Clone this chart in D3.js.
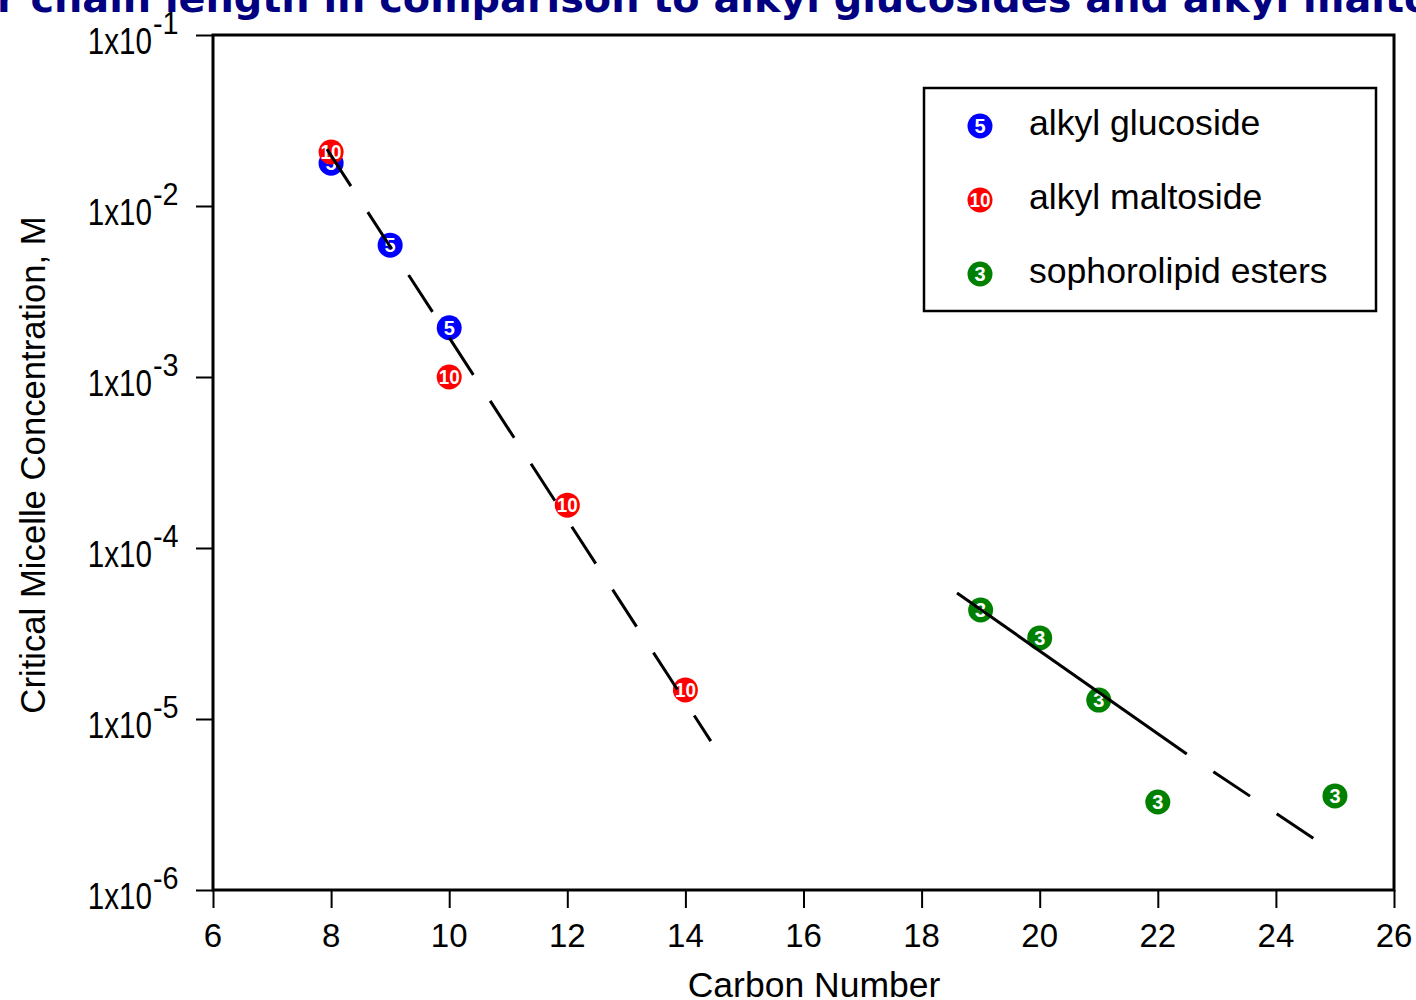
<!DOCTYPE html>
<html>
<head>
<meta charset="utf-8">
<script src="https://cdn.jsdelivr.net/npm/d3@7"></script>
<style>
  html, body { margin: 0; padding: 0; background: #fff; }
  svg { display: block; }
</style>
</head>
<body>
<div id="chart"></div>
<script>
// Data (CMC in mol/L versus carbon number)
var glucosideCarbon = [8, 9, 10];
var glucosideCmc = [1.78e-2, 5.9e-3, 1.94e-3];

var maltosideCarbon = [8, 10, 12, 14];
var maltosideCmc = [2.07e-2, 1.0e-3, 1.78e-4, 1.48e-5];

var esterCarbon = [19, 20, 21, 22, 25];
var esterCmc = [4.34e-5, 2.98e-5, 1.29e-5, 3.27e-6, 3.55e-6];

// trend lines (end points)
var sugarFitCarbon = [7.93, 14.43];
var sugarFitCmc = [2.15e-2, 7.43e-6];
var esterFitCarbon = [18.6, 22.49];
var esterFitCmc = [5.46e-5, 6.24e-6];
var esterExtraCarbon = [22.49, 24.65];
var esterExtraCmc = [6.24e-6, 1.99e-6];

var xTicks = [6, 8, 10, 12, 14, 16, 18, 20, 22, 24, 26];
var yTicks = [1e-6, 1e-5, 1e-4, 1e-3, 1e-2, 1e-1];
var yTickExponents = ['-6', '-5', '-4', '-3', '-2', '-1'];

var seriesNames = ['alkyl glucoside', 'alkyl maltoside', 'sophorolipid esters'];
var seriesColors = ['#0000ff', '#ff0000', '#008000'];
var seriesSymbols = ['5', '10', '3'];

var titleText = 'Effect of ester chain length in comparison to alkyl glucosides and alkyl maltosides';

var width = 1416, height = 1000;
var margin = { top: 35, right: 22, bottom: 110, left: 213 };
var font = "'Liberation Sans', Arial, Helvetica, sans-serif";

var svg = d3.select('#chart').append('svg')
  .attr('width', width).attr('height', height);

var x = d3.scaleLinear().domain([6, 26]).range([margin.left, width - margin.right]);
var y = d3.scaleLog().domain([1e-6, 1e-1]).range([height - margin.bottom, margin.top]);

// Title (cut off at the top of the picture)
var title = svg.append('text')
  .attr('y', 12)
  .attr('font-family', "'Comic Sans MS', 'DejaVu Sans', sans-serif")
  .attr('font-weight', 'bold')
  .attr('font-size', 38)
  .attr('fill', '#000080')
  .text(titleText);
(function fitTitle() {
  var node = title.node();
  var i0 = titleText.indexOf('r chain');
  var i1 = titleText.indexOf('maltosides') + 1;
  var w = node.getSubStringLength(i0, i1 - i0);
  title.attr('font-size', 38 * 1348 / w);
  var pre = node.getSubStringLength(0, i0);
  title.attr('x', -3 - pre);
})();

// Minor ticks
var xMinor = d3.range(6.5, 26, 0.5).filter(function(v) { return v % 2 !== 0; });
var yMinor = [];
yTicks.slice(0, -1).forEach(function(d) {
  for (var k = 2; k <= 9; k++) yMinor.push(d * k);
});

var xAxisG = svg.append('g').attr('transform', 'translate(0,' + (height - margin.bottom) + ')');
xAxisG.call(d3.axisBottom(x).tickValues(xMinor).tickSize(10).tickFormat(''));
xAxisG.call(d3.axisBottom(x).tickValues(xTicks).tickSize(18).tickFormat(''));
xAxisG.selectAll('.domain').remove();
xAxisG.selectAll('line').attr('stroke', '#000').attr('stroke-width', 2);

var yAxisG = svg.append('g').attr('transform', 'translate(' + margin.left + ',0)');
yAxisG.call(d3.axisLeft(y).tickValues(yMinor).tickSize(8).tickFormat(''));
yAxisG.call(d3.axisLeft(y).tickValues(yTicks).tickSize(17).tickFormat(''));
yAxisG.selectAll('.domain').remove();
yAxisG.selectAll('line').attr('stroke', '#000').attr('stroke-width', 2);

// x tick labels
svg.append('g').selectAll('text').data(xTicks).enter().append('text')
  .attr('x', function(d) { return x(d); })
  .attr('y', height - margin.bottom + 57)
  .attr('text-anchor', 'middle')
  .attr('font-family', font)
  .attr('font-size', 33)
  .attr('fill', '#000')
  .text(function(d) { return d; });

// y tick labels: 1x10 with superscript exponent
var yLab = svg.append('g').selectAll('g').data(yTicks).enter().append('g')
  .attr('transform', function(d) { return 'translate(0,' + y(d) + ')'; });
yLab.append('text')
  .attr('transform', 'translate(152,19) scale(0.8,1)')
  .attr('text-anchor', 'end')
  .attr('font-family', font)
  .attr('font-size', 37)
  .attr('fill', '#000')
  .text('1x10');
yLab.append('text')
  .attr('transform', 'translate(153,-1) scale(0.9,1)')
  .attr('text-anchor', 'start')
  .attr('font-family', font)
  .attr('font-size', 32)
  .attr('fill', '#000')
  .text(function(d, i) { return yTickExponents[i]; });

// axis titles
svg.append('text')
  .attr('x', 814)
  .attr('y', 997)
  .attr('text-anchor', 'middle')
  .attr('font-family', font)
  .attr('font-size', 35.5)
  .attr('fill', '#000')
  .text('Carbon Number');

svg.append('text')
  .attr('transform', 'translate(45,465) rotate(-90)')
  .attr('text-anchor', 'middle')
  .attr('font-family', font)
  .attr('font-size', 34.7)
  .attr('fill', '#000')
  .text('Critical Micelle Concentration, M');

// markers
function drawMarkers(g, xs, ys, color, symbol) {
  var pts = g.selectAll(null).data(xs).enter().append('g')
    .attr('transform', function(d, i) { return 'translate(' + x(d) + ',' + y(ys[i]) + ')'; });
  pts.append('circle').attr('r', 12.5).attr('fill', color);
  pts.append('text')
    .attr('text-anchor', 'middle')
    .attr('dy', '0.36em')
    .attr('font-family', font)
    .attr('font-weight', 'bold')
    .attr('font-size', 20)
    .attr('fill', '#fff')
    .attr('textLength', symbol.length > 1 ? 21 : null)
    .attr('lengthAdjust', 'spacingAndGlyphs')
    .text(symbol);
}

var markG = svg.append('g');
drawMarkers(markG, glucosideCarbon, glucosideCmc, seriesColors[0], seriesSymbols[0]);
drawMarkers(markG, maltosideCarbon, maltosideCmc, seriesColors[1], seriesSymbols[1]);
drawMarkers(markG, esterCarbon, esterCmc, seriesColors[2], seriesSymbols[2]);

// trend lines (drawn on top of markers)
var line = d3.line()
  .x(function(d) { return x(d[0]); })
  .y(function(d) { return y(d[1]); });
function zip(a, b) { return a.map(function(v, i) { return [v, b[i]]; }); }

svg.append('path')
  .attr('d', line(zip(sugarFitCarbon, sugarFitCmc)))
  .attr('fill', 'none').attr('stroke', '#000').attr('stroke-width', 3)
  .attr('stroke-dasharray', '44,31');
svg.append('path')
  .attr('d', line(zip(esterFitCarbon, esterFitCmc)))
  .attr('fill', 'none').attr('stroke', '#000').attr('stroke-width', 3);
svg.append('path')
  .attr('d', line(zip(esterExtraCarbon, esterExtraCmc)))
  .attr('fill', 'none').attr('stroke', '#000').attr('stroke-width', 3)
  .attr('stroke-dasharray', '44,32').attr('stroke-dashoffset', 44);

// plot frame
svg.append('rect')
  .attr('x', margin.left).attr('y', margin.top)
  .attr('width', width - margin.left - margin.right)
  .attr('height', height - margin.top - margin.bottom)
  .attr('fill', 'none').attr('stroke', '#000').attr('stroke-width', 3);

// legend
var legend = svg.append('g');
legend.append('rect')
  .attr('x', 924).attr('y', 88).attr('width', 452).attr('height', 223)
  .attr('fill', '#fff').attr('stroke', '#000').attr('stroke-width', 2.5);
var legY = d3.scalePoint().domain(seriesNames).range([126, 274]);
seriesNames.forEach(function(name, i) {
  var gi = legend.append('g');
  drawMarkers(gi, [0], [1], seriesColors[i], seriesSymbols[i]);
  gi.select('g').attr('transform', 'translate(980,' + legY(name) + ')');
  gi.append('text')
    .attr('x', 1029).attr('y', legY(name) + 9)
    .attr('font-family', font)
    .attr('font-size', 35.6)
    .attr('fill', '#000')
    .text(name);
});
</script>
</body>
</html>
